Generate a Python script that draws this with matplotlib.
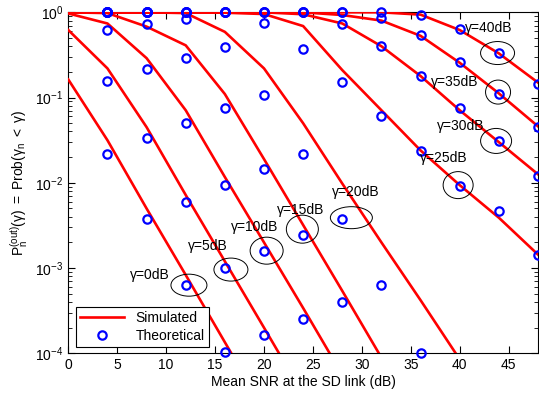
import numpy as np
import matplotlib
matplotlib.use("Agg")
import matplotlib.pyplot as plt
from matplotlib.lines import Line2D
from matplotlib.patches import Ellipse
from matplotlib.transforms import ScaledTranslation

plt.rcParams['font.family'] = ['Liberation Sans', 'DejaVu Sans']
plt.rcParams['mathtext.fontset'] = 'custom'
plt.rcParams['mathtext.rm'] = 'Liberation Sans'
plt.rcParams['mathtext.it'] = 'Liberation Sans:italic'
plt.rcParams['font.size'] = 10

nan = np.nan

# SNR grid of the simulated curves and of the theoretical markers (dB)
snr_sim = [0, 4, 8, 12, 16, 20, 24, 28, 32, 36, 40, 44, 48]
snr_theo = [4, 8, 12, 16, 20, 24, 28, 32, 36, 40, 44, 48]
gamma_db = [0, 5, 10, 15, 20, 25, 30, 35, 40]

# simulated outage probability, one list per threshold
sim_0 = [0.163, 0.0316, 0.005, 8.3e-4, 1.35e-4, 2.2e-5, nan, nan, nan, nan, nan, nan, nan]
sim_5 = [0.62, 0.22, 0.045, 0.0072, 0.0012, 2.0e-4, 3.3e-5, nan, nan, nan, nan, nan, nan]
sim_10 = [0.97, 0.74, 0.29, 0.071, 0.0117, 0.002, 3.4e-4, 5.6e-5, nan, nan, nan, nan, nan]
sim_15 = [1.0, 0.98, 0.68, 0.41, 0.11, 0.019, 0.0032, 5.4e-4, 8.9e-5, nan, nan, nan, nan]
sim_20 = [1.0, 1.0, 1.0, 0.98, 0.59, 0.22, 0.05, 0.0098, 0.002, 4.2e-4, 8.5e-5, nan, nan]
sim_25 = [1.0, 1.0, 1.0, 1.0, 0.99, 0.955, 0.69, 0.21, 0.071, 0.024, 0.0094, 0.0039, 0.00144]
sim_30 = [1.0, 1.0, 1.0, 1.0, 1.0, 1.0, 0.95, 0.74, 0.40, 0.179, 0.071, 0.030, 0.0126]
sim_35 = [1.0, 1.0, 1.0, 1.0, 1.0, 1.0, 1.0, 0.93, 0.80, 0.53, 0.256, 0.112, 0.046]
sim_40 = [1.0, 1.0, 1.0, 1.0, 1.0, 1.0, 1.0, 1.0, 1.0, 0.94, 0.62, 0.33, 0.15]

# theoretical outage probability
theo_0 = [0.022, 0.0038, 6.4e-4, 1.03e-4, nan, nan, nan, nan, nan, nan, nan, nan]
theo_5 = [0.156, 0.0335, 0.006, 0.001, 1.63e-4, nan, nan, nan, nan, nan, nan, nan]
theo_10 = [0.615, 0.218, 0.0498, 0.0094, 0.00158, 2.5e-4, nan, nan, nan, nan, nan, nan]
theo_15 = [1.0, 0.73, 0.294, 0.0747, 0.0144, 0.00243, 4.0e-4, nan, nan, nan, nan, nan]
theo_20 = [1.0, 1.0, 0.834, 0.392, 0.108, 0.0219, 0.0038, 6.3e-4, 1.0e-4, nan, nan, nan]
theo_25 = [1.0, 1.0, 1.0, 1.0, 0.755, 0.374, 0.153, 0.06, 0.0236, 0.0092, 0.0047, 0.00144]
theo_30 = [1.0, 1.0, 1.0, 1.0, 1.0, 1.0, 0.73, 0.398, 0.179, 0.0758, 0.031, 0.0121]
theo_35 = [1.0, 1.0, 1.0, 1.0, 1.0, 1.0, 1.0, 0.866, 0.54, 0.261, 0.111, 0.0454]
theo_40 = [1.0, 1.0, 1.0, 1.0, 1.0, 1.0, 1.0, 1.0, 0.93, 0.637, 0.33, 0.143]

sim_curves = [sim_0, sim_5, sim_10, sim_15, sim_20, sim_25, sim_30, sim_35, sim_40]
theo_curves = [theo_0, theo_5, theo_10, theo_15, theo_20, theo_25, theo_30, theo_35, theo_40]

# label text position (dB, prob) and ellipse centre / size in pixels
label_xy = [(6.3, 8.3e-4), (12.2, 1.8e-3), (16.6, 3.05e-3), (21.3, 4.8e-3), (26.9, 7.8e-3),
            (35.9, 0.0193), (37.7, 0.0462), (37.1, 0.153), (40.5, 0.65)]
ellipse_xy = [(12.33, 6.3e-4), (16.62, 9.6e-4), (20.27, 1.6e-3), (23.92, 2.86e-3), (28.93, 3.9e-3),
              (39.84, 9.4e-3), (43.72, 0.031), (43.92, 0.116), (43.87, 0.333)]
ellipse_px = [(36, 22), (34, 23), (33, 27), (32, 28), (42, 22), (30, 27), (31, 25), (25, 24), (34, 23)]

fig = plt.figure(figsize=(5.39, 3.99), dpi=100)
ax = fig.add_axes([0.1267, 0.1145, 0.8714, 0.8546])

for sim in sim_curves:
    ax.plot(snr_sim, sim, color='red', lw=1.9, zorder=3)
for theo in theo_curves:
    ax.plot(snr_theo, theo, 'o', ls='none', ms=6, mew=1.6, mfc='none', mec='blue',
            clip_on=False, zorder=4)

for g, (tx, ty), (ex, ey), (w, h) in zip(gamma_db, label_xy, ellipse_xy, ellipse_px):
    ax.text(tx, ty, 'γ=%ddB' % g, ha='left', va='center', fontsize=10, zorder=5)
    tr = fig.dpi_scale_trans + ScaledTranslation(ex, ey, ax.transData)
    ax.add_patch(Ellipse((0, 0), w / 100.0, h / 100.0, transform=tr,
                         fill=False, ec='black', lw=0.7, zorder=5))

ax.set_yscale('log')
ax.set_xlim(0, 48)
ax.set_ylim(1e-4, 1)
ax.set_xticks(range(0, 46, 5))
ax.tick_params(which='both', direction='in', top=True, right=True, labelsize=10)
ax.tick_params(which='major', length=5)
ax.tick_params(which='minor', length=3)
ax.set_xlabel('Mean SNR at the SD link (dB)', fontsize=10, labelpad=2)
ax.set_ylabel(r'$\mathregular{P_n^{(out)}(\gamma)\ =\ Prob(\gamma_n\ <\ \gamma)}$', fontsize=10, labelpad=4)

handles = [Line2D([], [], color='red', lw=1.9),
           Line2D([], [], marker='o', ls='none', ms=6, mew=1.6, mfc='none', mec='blue')]
leg = ax.legend(handles, ['Simulated', 'Theoretical'], loc='lower left',
                bbox_to_anchor=(0.0158, 0.019), borderaxespad=0, fancybox=False,
                edgecolor='black', framealpha=1, handlelength=3.2, fontsize=10,
                borderpad=0.3, labelspacing=0.25)
leg.get_frame().set_linewidth(0.8)

fig.savefig('out.png', dpi=100)
